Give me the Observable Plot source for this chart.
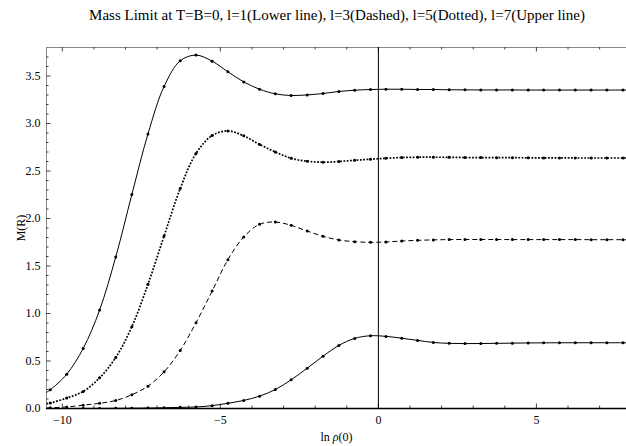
<!DOCTYPE html>
<html><head><meta charset="utf-8">
<script src="https://cdn.jsdelivr.net/npm/d3@7"></script>
<script src="https://cdn.jsdelivr.net/npm/@observablehq/plot@0.6"></script>
<style>
body{margin:0;background:#fff;}
#wrap{position:relative;width:626px;height:446px;font-family:"Liberation Serif","Times New Roman",serif;}
#title{position:absolute;top:7px;left:48px;width:578px;text-align:center;font-size:15px;color:#000;white-space:nowrap;}
#chart{position:absolute;top:0;left:0;}
</style></head><body>
<div id="wrap"><div id="chart"></div><div id="title">Mass Limit at T=B=0, l=1(Lower line), l=3(Dashed), l=5(Dotted), l=7(Upper line)</div></div>
<script>
// sample positions (ln rho(0)) of the plotted markers
const lnRho = [-10.38,-9.86,-9.34,-8.82,-8.31,-7.80,-7.29,-6.78,-6.27,-5.77,-5.26,-4.76,-4.26,-3.76,-3.26,-2.76,-2.25,-1.75,-1.25,-0.75,-0.25,0.24,0.74,1.24,1.74,2.24,2.74,3.24,3.74,4.24,4.74,5.23,5.73,6.23,6.73,7.23,7.74];
// M(R) for l = 7 (upper line)
const massL7 = [0.197,0.361,0.632,1.036,1.594,2.252,2.89,3.39,3.66,3.72,3.656,3.544,3.438,3.361,3.312,3.295,3.301,3.316,3.337,3.351,3.358,3.361,3.361,3.358,3.358,3.355,3.354,3.353,3.353,3.353,3.352,3.352,3.352,3.352,3.352,3.352,3.352];
// M(R) for l = 5 (dotted)
const massL5 = [0.058,0.11,0.179,0.323,0.537,0.861,1.307,1.816,2.315,2.684,2.873,2.922,2.87,2.78,2.70,2.634,2.603,2.592,2.60,2.613,2.624,2.634,2.642,2.645,2.645,2.644,2.642,2.641,2.64,2.64,2.639,2.638,2.638,2.637,2.637,2.637,2.637];
// M(R) for l = 3 (dashed)
const massL3 = [0.008,0.016,0.035,0.055,0.084,0.145,0.235,0.386,0.611,0.903,1.236,1.567,1.805,1.939,1.963,1.928,1.868,1.812,1.774,1.756,1.749,1.753,1.763,1.77,1.775,1.778,1.779,1.779,1.779,1.778,1.778,1.778,1.778,1.778,1.777,1.777,1.777];
// M(R) for l = 1 (lower line)
const massL1 = [0.0,0.0,0.001,0.001,0.002,0.003,0.005,0.008,0.012,0.016,0.03,0.055,0.085,0.13,0.20,0.302,0.425,0.551,0.664,0.738,0.766,0.759,0.74,0.717,0.695,0.686,0.683,0.684,0.686,0.688,0.69,0.691,0.692,0.692,0.692,0.692,0.692];
// curve values at the left and right plot edges
const edgeX = [-10.5, 7.85];
const edgeL7 = [0.17, 3.352];
const edgeL5 = [0.05, 2.637];
const edgeL3 = [0.006, 1.777];
const edgeL1 = [0.0, 0.692];
// axis ticks
const xTickLabels = [-10, -5, 0, 5];
const yTickLabels = [0, 0.5, 1, 1.5, 2, 2.5, 3, 3.5];
const xMinor = d3.range(-10, 8).filter(v => v % 5 !== 0);
const yMinor = d3.range(1, 38).map(v => v / 10).filter(v => Math.abs(v * 2 - Math.round(v * 2)) > 1e-6);

const W = 626, H = 446, mL = 46, mR = 0, mT = 47, mB = 38;
const pw = W - mL - mR, ph = H - mT - mB;

function pts(vals) { return lnRho.map((x, i) => ({x, y: vals[i]})); }
function linePts(vals, edge) { return [{x: edgeX[0], y: edge[0]}, ...pts(vals), {x: edgeX[1], y: edge[1]}]; }

const allDots = [...pts(massL7), ...pts(massL5), ...pts(massL3), ...pts(massL1)];
const tickC = "#444";
const fmtX = d => d < 0 ? "\u2212" + Math.abs(d) : String(d);

const chart = Plot.plot({
  width: W, height: H,
  marginLeft: mL, marginRight: mR, marginTop: mT, marginBottom: mB,
  style: {fontFamily: "'Liberation Serif','Times New Roman',serif", fontSize: "12px", color: "#000", background: "transparent"},
  x: {domain: [-10.5, 7.85]},
  y: {domain: [0, 3.8]},
  marks: [
    // frame (top and left)
    Plot.ruleY([3.8], {stroke: "#888", strokeWidth: 1}),
    Plot.ruleX([-10.5], {stroke: "#888", strokeWidth: 1}),
    // inward ticks
    Plot.tickX(xTickLabels, {x: d => d, insetTop: ph - 4.5, stroke: tickC}),
    Plot.tickX(xTickLabels, {x: d => d, insetBottom: ph - 4.5, stroke: tickC}),
    Plot.tickX(xMinor, {x: d => d, insetTop: ph - 2.5, stroke: tickC}),
    Plot.tickX(xMinor, {x: d => d, insetBottom: ph - 2.5, stroke: tickC}),
    Plot.tickY(yTickLabels, {y: d => d, insetRight: pw - 4.5, stroke: tickC}),
    Plot.tickY(yMinor, {y: d => d, insetRight: pw - 2.5, stroke: tickC}),
    // axes lines
    Plot.ruleY([0], {stroke: "#000", strokeWidth: 1.3}),
    Plot.ruleX([0], {stroke: "#000", strokeWidth: 1}),
    // curves
    Plot.line(linePts(massL7, edgeL7), {x: "x", y: "y", stroke: "#000", strokeWidth: 1, curve: "catmull-rom", clip: true}),
    Plot.line(linePts(massL5, edgeL5), {x: "x", y: "y", stroke: "#000", strokeWidth: 1.7, strokeDasharray: "1.8,1.5", strokeLinecap: "butt", curve: "catmull-rom", clip: true}),
    Plot.line(linePts(massL3, edgeL3), {x: "x", y: "y", stroke: "#000", strokeWidth: 1, strokeDasharray: "5,3", strokeLinecap: "butt", curve: "catmull-rom", clip: true}),
    Plot.line(linePts(massL1, edgeL1), {x: "x", y: "y", stroke: "#000", strokeWidth: 1, curve: "catmull-rom", clip: true}),
    Plot.dot(allDots, {x: "x", y: "y", r: 1.5, fill: "#000", stroke: "none", clip: true}),
    // axis labels
    Plot.axisX({ticks: xTickLabels, tickSize: 0, tickPadding: 7, tickFormat: fmtX, fontSize: 12,
      label: "ln ρ(0)", labelAnchor: "center", labelArrow: "none", labelOffset: 32}),
    Plot.axisY({ticks: yTickLabels, tickSize: 0, tickPadding: 6, tickFormat: d => d.toFixed(1), fontSize: 12,
      label: "M(R)", labelAnchor: "center", labelArrow: "none", labelOffset: 30})
  ]
});
document.getElementById("chart").appendChild(chart);
// italic rho in the x label
d3.select(chart).selectAll("text").each(function() {
  if (this.textContent === "ln ρ(0)") {
    this.textContent = "";
    const t = d3.select(this);
    t.append("tspan").text("ln ");
    t.append("tspan").attr("font-style", "italic").text("ρ");
    t.append("tspan").text("(0)");
  }
});
</script>
</body></html>
